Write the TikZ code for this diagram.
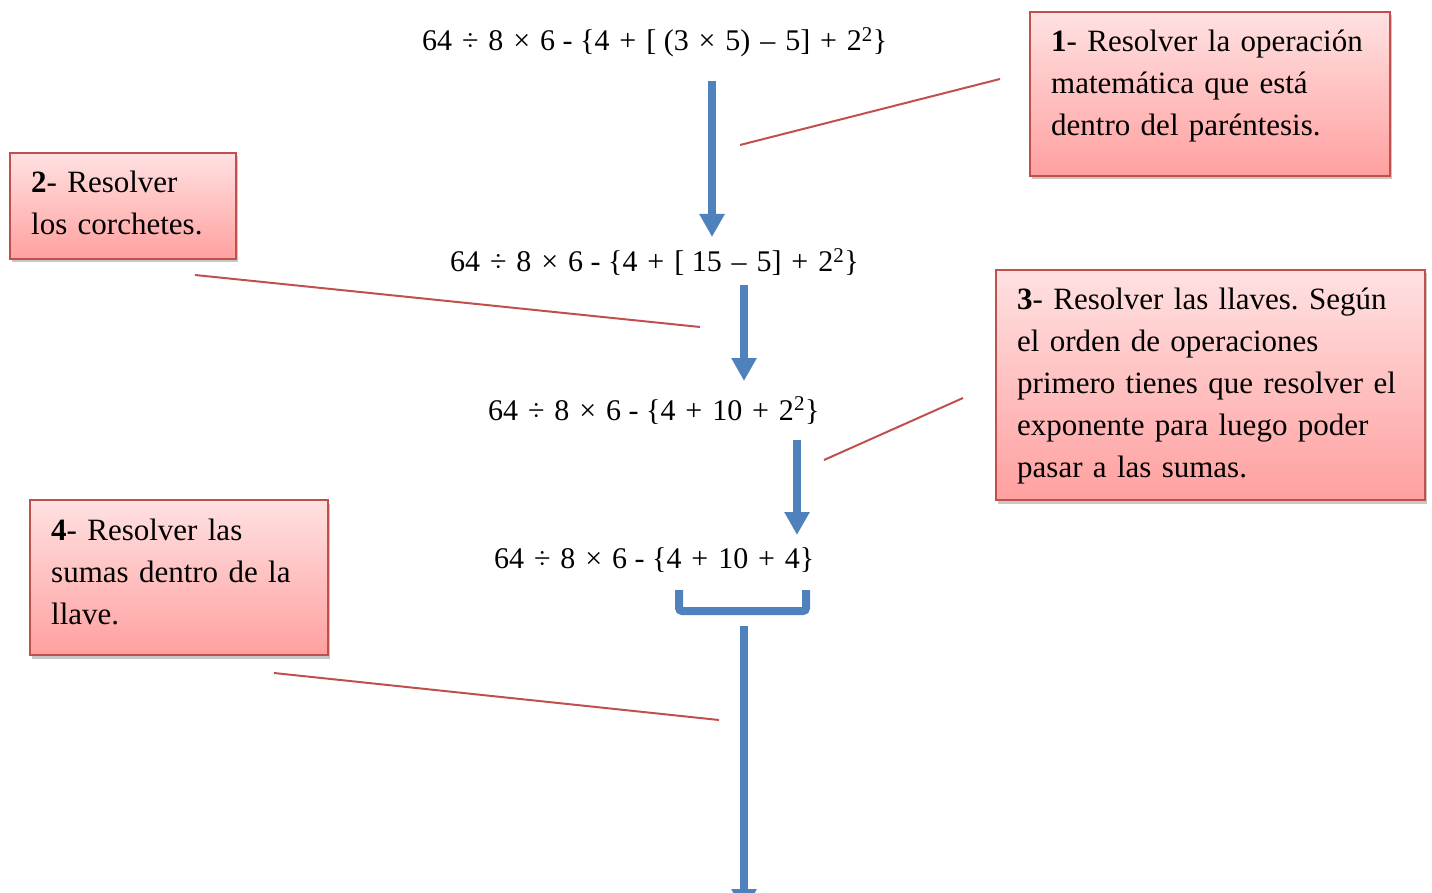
\documentclass[tikz,border=0pt]{standalone}
\usepackage{fontspec}
\setmainfont{Liberation Serif}
\frenchspacing
\usetikzlibrary{arrows.meta,shadows}
\definecolor{flowblue}{RGB}{79,129,189}
\definecolor{linered}{RGB}{192,80,77}
\definecolor{boxtop}{RGB}{255,225,225}
\definecolor{boxbot}{RGB}{255,160,160}
\tikzset{
  notebox/.style={draw=linered, line width=2.5pt, top color=boxtop, bottom color=boxbot,
    drop shadow={shadow xshift=2pt, shadow yshift=-3.5pt, opacity=0.4, fill=black!55}},
  notetext/.style={anchor=north west, inner sep=0pt, align=left, text width=#1,
    font=\fontsize{31}{42}\selectfont},
  formula/.style={anchor=base west, inner sep=0pt, font=\fontsize{30}{36}\selectfont},
  flow/.style={draw=flowblue, line width=8pt, -{Triangle[width=24pt,length=23pt]}},
  callout/.style={draw=linered, line width=2pt},
}
\newcommand{\firststrut}{\rule{0pt}{25pt}}
\newcommand{\opr}[1]{\hspace{2.4pt}#1\hspace{2.4pt}}
\begin{document}
\begin{tikzpicture}[x=1pt,y=-1pt]
\useasboundingbox (0,0) rectangle (1432,893);
\clip (0,0) rectangle (1432,893);

% formulas
\node[formula] (f1) at (422,51) {64 \opr{÷} 8 \opr{×} 6 - \{4 \opr{+} [ (3 \opr{×} 5) \opr{–} 5] \opr{+} 2\textsuperscript{2}\}};
\node[formula] (f2) at (450,272) {64 \opr{÷} 8 \opr{×} 6 - \{4 \opr{+} [ 15 \opr{–} 5] \opr{+} 2\textsuperscript{2}\}};
\node[formula] (f3) at (488,420) {64 \opr{÷} 8 \opr{×} 6 - \{4 \opr{+} 10 \opr{+} 2\textsuperscript{2}\}};
\node[formula] (f4) at (494,568) {64 \opr{÷} 8 \opr{×} 6 - \{4 \opr{+} 10 \opr{+} 4\}};

% flow arrows
\coordinate (a1s) at (712,81);  \coordinate (a1e) at (712,237);
\coordinate (a2s) at (744,285); \coordinate (a2e) at (744,381);
\coordinate (a3s) at (797,440); \coordinate (a3e) at (797,535);
\coordinate (a4s) at (744,626); \coordinate (a4e) at (744,912);
\draw[flow] (a1s) -- (a1e);
\draw[flow] (a2s) -- (a2e);
\draw[flow] (a3s) -- (a3e);
\draw[flow] (a4s) -- (a4e);

% bracket under the last formula
\coordinate (bl) at (679,590); \coordinate (br) at (806,590);
\draw[flowblue, line width=8pt, rounded corners=3pt] (bl) -- (679,611) -- (806,611) -- (br);

% callout boxes
\path[notebox] (1030,12) rectangle (1390,176);
\node[notetext=350pt] (t1) at (1051,26) {\firststrut\textbf{1}- Resolver la operación\\matemática que está\\dentro del paréntesis.};

\path[notebox] (10,153) rectangle (236,259);
\node[notetext=210pt] (t2) at (31,167) {\firststrut\textbf{2}- Resolver\\los corchetes.};

\path[notebox] (996,270) rectangle (1425,500);
\node[notetext=420pt] (t3) at (1017,284) {\firststrut\textbf{3}- Resolver las llaves. Según\\el orden de operaciones\\primero tienes que resolver el\\exponente para luego poder\\pasar a las sumas.};

\path[notebox] (30,500) rectangle (328,655);
\node[notetext=290pt] (t4) at (51,515) {\firststrut\textbf{4}- Resolver las\\sumas dentro de la\\llave.};

% callout lines
\coordinate (l1a) at (740,145); \coordinate (l1b) at (1000,79);
\coordinate (l2a) at (195,275); \coordinate (l2b) at (700,327);
\coordinate (l3a) at (824,460); \coordinate (l3b) at (963,398);
\coordinate (l4a) at (274,673); \coordinate (l4b) at (719,720);
\draw[callout] (l1a) -- (l1b);
\draw[callout] (l2a) -- (l2b);
\draw[callout] (l3a) -- (l3b);
\draw[callout] (l4a) -- (l4b);
\end{tikzpicture}
\end{document}
